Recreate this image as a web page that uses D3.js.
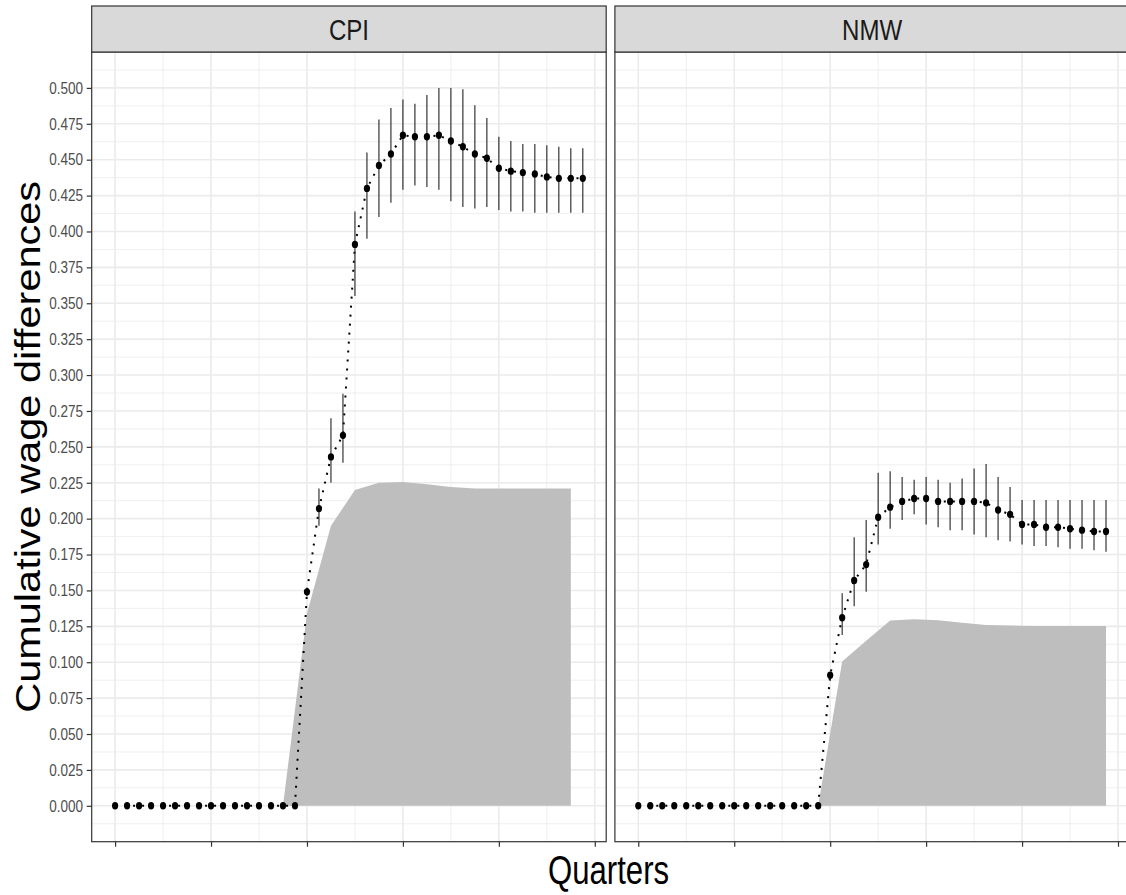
<!DOCTYPE html>
<html>
<head>
<meta charset="utf-8">
<script src="https://cdn.jsdelivr.net/npm/d3@7"></script>
<style>
  body { margin: 0; background: #fff; }
  text { font-family: "Liberation Sans", Arial, sans-serif; }
</style>
</head>
<body>
<div id="chart"></div>
<script>
// quarters 0..39, same for both panels
var quarters = d3.range(40);
var zeros = d3.range(16).map(function () { return 0; });

var cpiEst = zeros.concat([0.149, 0.207, 0.243, 0.258, 0.391, 0.430, 0.446, 0.454, 0.467, 0.466, 0.466, 0.467,
  0.463, 0.459, 0.454, 0.451, 0.444, 0.442, 0.441, 0.440, 0.438, 0.437, 0.437, 0.437]);
var cpiLow = zeros.concat([0.146, 0.195, 0.225, 0.239, 0.355, 0.395, 0.410, 0.420, 0.429, 0.432, 0.431, 0.429,
  0.421, 0.417, 0.416, 0.417, 0.415, 0.414, 0.414, 0.413, 0.413, 0.413, 0.413, 0.413]);
var cpiHigh = zeros.concat([0.152, 0.221, 0.270, 0.287, 0.414, 0.455, 0.478, 0.486, 0.492, 0.489, 0.495, 0.500,
  0.500, 0.499, 0.488, 0.479, 0.466, 0.463, 0.461, 0.461, 0.460, 0.459, 0.458, 0.458]);

var nmwEst = zeros.concat([0.091, 0.131, 0.157, 0.168, 0.201, 0.208, 0.212, 0.214, 0.214, 0.212, 0.212, 0.212,
  0.212, 0.211, 0.206, 0.203, 0.196, 0.196, 0.194, 0.194, 0.193, 0.192, 0.191, 0.191]);
var nmwLow = zeros.concat([0.087, 0.119, 0.139, 0.149, 0.182, 0.193, 0.199, 0.203, 0.196, 0.194, 0.192, 0.192,
  0.189, 0.187, 0.185, 0.184, 0.182, 0.181, 0.181, 0.180, 0.179, 0.179, 0.178, 0.177]);
var nmwHigh = zeros.concat([0.093, 0.148, 0.187, 0.199, 0.232, 0.233, 0.229, 0.227, 0.229, 0.227, 0.225, 0.228,
  0.235, 0.238, 0.229, 0.222, 0.213, 0.213, 0.213, 0.213, 0.213, 0.213, 0.213, 0.213]);

// shaded band (upper edge, lower edge is 0)
var cpiBandX = [14, 16, 18, 20, 22, 24, 26, 28, 30, 32, 34, 36, 38];
var cpiBand = [0, 0.134, 0.195, 0.220, 0.225, 0.2255, 0.224, 0.222, 0.221, 0.221, 0.221, 0.221, 0.221];
var nmwBandX = [15, 17, 19, 21, 23, 25, 27, 29, 31, 33, 35, 37, 39];
var nmwBand = [0, 0.1005, 0.115, 0.129, 0.130, 0.1293, 0.1275, 0.126, 0.1255, 0.1253, 0.1253, 0.1253, 0.1253];

var panelNames = ["CPI", "NMW"];
var yTicks = d3.range(0, 0.5001, 0.025);
var xTicks = [0, 8, 16, 24, 32, 40];

var W = 1126, H = 895,
  sx = 0.83, // the picture is squeezed sideways
  panelW = 514.5, panelGap = 8.7,
  mLeft = 91.7, mTop = 52, mBottom = 841.7, stripH = 46;

var panels = [
  { name: panelNames[0], est: cpiEst, low: cpiLow, high: cpiHigh, bx: cpiBandX, band: cpiBand },
  { name: panelNames[1], est: nmwEst, low: nmwLow, high: nmwHigh, bx: nmwBandX, band: nmwBand }
];

var svg = d3.select("#chart").append("svg")
  .attr("width", W).attr("height", H)
  .style("display", "block");

svg.append("rect").attr("width", W).attr("height", H).attr("fill", "#fff");

var y = d3.scaleLinear().domain([-0.025, 0.525]).range([mBottom, mTop]);

function squeezedText(g, x, yy, txt) {
  return g.append("text")
    .attr("transform", "translate(" + x + "," + yy + ") scale(" + sx + ",1)")
    .text(txt);
}

panels.forEach(function (p, k) {
  var x0 = mLeft + k * (panelW + panelGap);
  var x = d3.scaleLinear().domain([-1.95, 40.95]).range([x0, x0 + panelW]);
  var g = svg.append("g");

  // minor grid
  var yMinor = yTicks.map(function (d) { return d - 0.0125; }).concat([0.5125]);
  g.selectAll(".ymin").data(yMinor).enter().append("line")
    .attr("x1", x0).attr("x2", x0 + panelW)
    .attr("y1", function (d) { return y(d); }).attr("y2", function (d) { return y(d); })
    .attr("stroke", "#ebebeb").attr("stroke-width", 0.8);
  g.selectAll(".xmin").data([4, 12, 20, 28, 36]).enter().append("line")
    .attr("x1", function (d) { return x(d); }).attr("x2", function (d) { return x(d); })
    .attr("y1", mTop).attr("y2", mBottom)
    .attr("stroke", "#ebebeb").attr("stroke-width", 0.8);
  // major grid
  g.selectAll(".ymaj").data(yTicks).enter().append("line")
    .attr("x1", x0).attr("x2", x0 + panelW)
    .attr("y1", function (d) { return y(d); }).attr("y2", function (d) { return y(d); })
    .attr("stroke", "#ebebeb").attr("stroke-width", 1.6);
  g.selectAll(".xmaj").data(xTicks).enter().append("line")
    .attr("x1", function (d) { return x(d); }).attr("x2", function (d) { return x(d); })
    .attr("y1", mTop).attr("y2", mBottom)
    .attr("stroke", "#ebebeb").attr("stroke-width", 1.6);

  // band
  var area = d3.area()
    .x(function (d, i) { return x(p.bx[i]); })
    .y0(y(0))
    .y1(function (d) { return y(d); });
  g.append("path").datum(p.band)
    .attr("d", area)
    .attr("fill", "#bebebe");

  // dotted line
  var line = d3.line()
    .x(function (d, i) { return x(quarters[i]); })
    .y(function (d) { return y(d); });
  g.append("path").datum(p.est)
    .attr("d", line)
    .attr("fill", "none")
    .attr("stroke", "#000")
    .attr("stroke-width", 2)
    .attr("stroke-dasharray", "2,7");

  // error bars
  g.selectAll(".err").data(quarters.filter(function (i) { return p.high[i] > p.low[i]; }))
    .enter().append("line")
    .attr("x1", function (i) { return x(i); }).attr("x2", function (i) { return x(i); })
    .attr("y1", function (i) { return y(p.low[i]); }).attr("y2", function (i) { return y(p.high[i]); })
    .attr("stroke", "#222").attr("stroke-width", 1.1);

  // points
  g.selectAll(".pt").data(quarters).enter().append("ellipse")
    .attr("cx", function (i) { return x(i); })
    .attr("cy", function (i) { return y(p.est[i]); })
    .attr("rx", 3.1).attr("ry", 3.7)
    .attr("fill", "#000");

  // panel border
  g.append("rect")
    .attr("x", x0).attr("y", mTop).attr("width", panelW).attr("height", mBottom - mTop)
    .attr("fill", "none").attr("stroke", "#333").attr("stroke-width", 1.2);

  // strip
  g.append("rect")
    .attr("x", x0).attr("y", mTop - stripH).attr("width", panelW).attr("height", stripH)
    .attr("fill", "#d9d9d9").attr("stroke", "#333").attr("stroke-width", 1.2);
  squeezedText(g, x0 + panelW / 2, mTop - stripH / 2 + 10.5, p.name)
    .attr("text-anchor", "middle")
    .attr("font-size", 29)
    .attr("fill", "#1a1a1a");

  // x axis ticks (no labels)
  g.append("g")
    .attr("transform", "translate(0," + mBottom + ")")
    .call(d3.axisBottom(x).tickValues(xTicks).tickSize(5).tickFormat(""))
    .call(function (a) {
      a.select(".domain").remove();
      a.selectAll("line").attr("stroke", "#333").attr("stroke-width", 1.2);
    });
});

// y axis
var ya = svg.append("g")
  .attr("transform", "translate(" + mLeft + ",0)")
  .call(d3.axisLeft(y).tickValues(yTicks).tickSize(5).tickFormat(""));
ya.select(".domain").remove();
ya.selectAll("line").attr("stroke", "#333").attr("stroke-width", 1.2);

var yl = svg.append("g");
yTicks.forEach(function (t) {
  squeezedText(yl, 83, y(t) + 5.8, d3.format(".3f")(t))
    .attr("text-anchor", "end")
    .attr("font-size", 16.3)
    .attr("fill", "#4d4d4d");
});

// axis titles
svg.append("text")
  .attr("transform", "translate(40," + ((mTop + mBottom) / 2) + ") rotate(-90) scale(1," + sx + ")")
  .attr("text-anchor", "middle")
  .attr("font-size", 41.5)
  .attr("fill", "#000")
  .text("Cumulative wage differences");

svg.append("text")
  .attr("transform", "translate(" + (mLeft + panelW + panelGap / 2 - 2) + ",884) scale(0.75,1)")
  .attr("text-anchor", "middle")
  .attr("font-size", 41.5)
  .attr("fill", "#000")
  .text("Quarters");
</script>
</body>
</html>
